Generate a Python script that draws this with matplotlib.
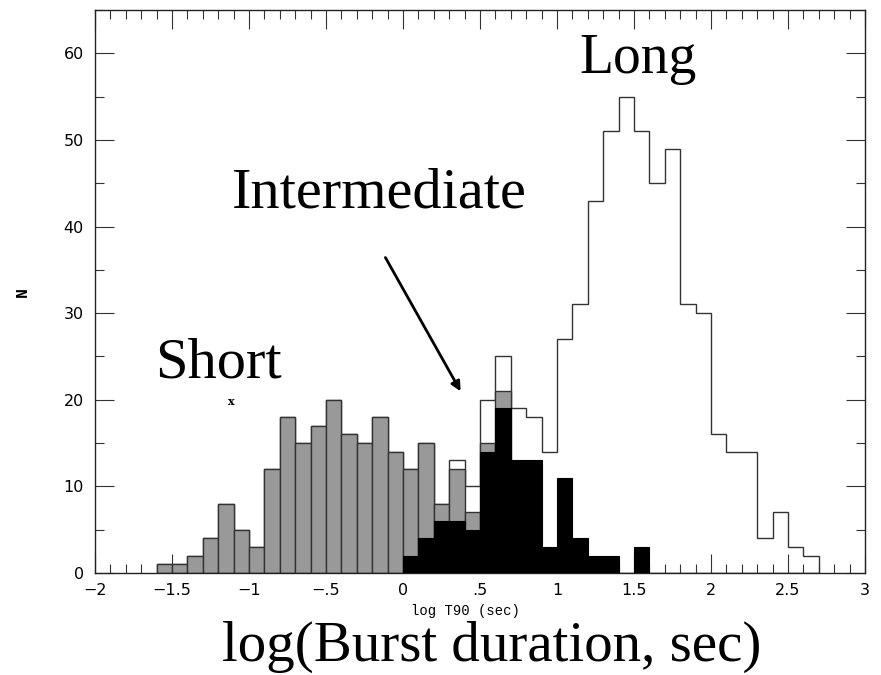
import numpy as np
import matplotlib
matplotlib.use('Agg')
import matplotlib.pyplot as plt
from matplotlib.ticker import MultipleLocator, FixedLocator

# histogram bins, log T90 in steps of 0.1 from -1.6 to 2.7
bin_start = -1.6
bin_width = 0.1
n_bins = 43
edges = np.round(bin_start + bin_width * np.arange(n_bins + 1), 2)

# all bursts (outline)
total = [1, 1, 2, 4, 8, 5, 3, 12, 18, 15, 17, 20, 16, 15, 18, 14, 12, 15, 8,
         13, 10, 20, 25, 19, 18, 14, 27, 31, 43, 51, 55, 51, 45, 49, 31, 30,
         16, 14, 14, 4, 7, 3, 2]
# grey part
grey = [1, 1, 2, 4, 8, 5, 3, 12, 18, 15, 17, 20, 16, 15, 18, 14, 12, 15, 8,
        12, 7, 15, 21] + [0] * 20
# black part (intermediate)
black = [0] * 16 + [2, 4, 6, 6, 5, 14, 19, 13, 13, 3, 11, 4, 2, 2, 0, 3] + [0] * 11

xticks = [-2, -1.5, -1, -0.5, 0, 0.5, 1, 1.5, 2, 2.5, 3]
xticklabels = ['\u22122', '\u22121.5', '\u22121', '\u2212.5', '0', '.5', '1', '1.5', '2', '2.5', '3']
yticks = [0, 10, 20, 30, 40, 50, 60]

W, H = 881, 675
fig = plt.figure(figsize=(W / 100, H / 100), dpi=100)
ax = fig.add_axes([95 / W, 1 - 573 / H, 770 / W, 563 / H])

def fpos(x, y):
    return x / W, 1 - y / H

ax.stairs(total, edges, color='#333333', lw=1.0, zorder=1)
ax.bar(edges[:-1], grey, width=bin_width, align='edge', color='#999999',
       edgecolor='#333333', lw=1.0, zorder=2)
ax.bar(edges[:-1], black, width=bin_width, align='edge', color='black',
       edgecolor='black', lw=0.8, zorder=3)

ax.set_xlim(-2, 3)
ax.set_ylim(0, 65)
ax.set_xticks(xticks)
ax.set_xticklabels(xticklabels)
ax.xaxis.set_minor_locator(MultipleLocator(0.1))
ax.set_yticks(yticks)
ax.yaxis.set_minor_locator(MultipleLocator(5))

ax.tick_params(which='both', direction='in', top=True, right=True,
               color='#333333', width=0.8, labelsize=11.5)
ax.tick_params(which='major', length=13.5)
ax.tick_params(which='minor', length=6.5)
ax.tick_params(axis='x', pad=7)
ax.tick_params(axis='y', pad=8)
for s in ax.spines.values():
    s.set_linewidth(1.0)
    s.set_color('#222222')

ax.set_xlabel('log T90 (sec)', family='Liberation Mono', fontsize=10)
ax.xaxis.set_label_coords((465 - 95) / 770, (573 - 611) / 563)
ax.xaxis.label.set_va('center')
ax.set_ylabel('N', family='Liberation Mono', fontsize=12, fontweight='bold', va='center')
ax.yaxis.set_label_coords((22 - 95) / 770, (573 - 292) / 563)

serif = 'Liberation Serif'
fig.text(*fpos(638, 73), 'Long', family=serif, fontsize=40, ha='center', va='baseline')
fig.text(*fpos(379, 207), 'Intermediate', family=serif, fontsize=42, ha='center', va='baseline')
fig.text(*fpos(218, 377), 'Short', family=serif, fontsize=42, ha='center', va='baseline')
fig.text(*fpos(231, 402), 'x', family='DejaVu Serif', fontsize=8, fontweight='bold',
         ha='center', va='center')
fig.text(*fpos(492, 661), 'log(Burst duration, sec)', family=serif, fontsize=41,
         ha='center', va='baseline')

ax.annotate('', xy=(0.383, 20.7), xytext=(-0.123, 36.7),
            arrowprops=dict(arrowstyle='-|>', lw=2, color='black', mutation_scale=14))

fig.savefig('out.png', dpi=100)
